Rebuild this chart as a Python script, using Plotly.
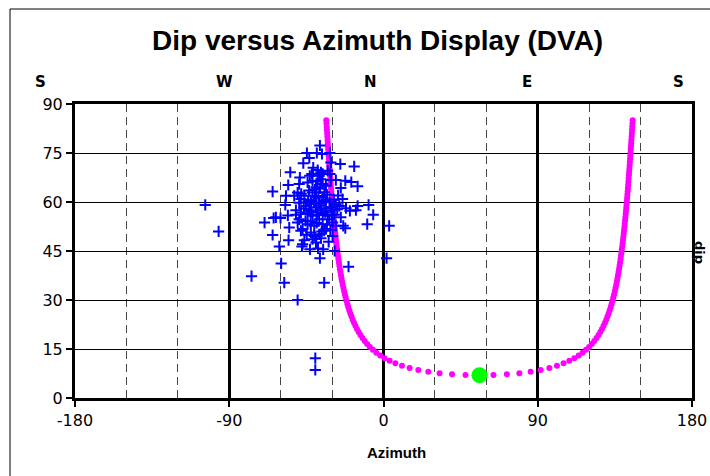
import plotly.graph_objects as go

# ---- data -------------------------------------------------------------
x_ticks = [-180, -90, 0, 90, 180]
y_ticks = [0, 15, 30, 45, 60, 75, 90]
compass_labels = ["S", "W", "N", "E", "S"]

# measured bedding / fracture dips (azimuth, dip)
scatter_az = [
    -104.0, -96.2, -77.0, -50.1, -57.9, -59.7, -60.8, -64.7, -69.4, -64.7,
    -64.1, -62.8, -60.1, -55.0, -55.4, -57.3, -55.8, -55.6, -54.4, -48.8,
    -46.8, -44.7, -43.3, -38.9, -37.1, -35.9, -31.3, -25.2, -17.1, -22.3,
    -18.8, -15.1, -24.9, -27.8, -23.9, -15.1, -8.7, -16.1, -19.6, -6.0,
    -9.5, 3.3, 1.8, -23.5, -22.3, -20.4, -34.6, -37.1, -35.2, -42.9,
    -47.2, -47.6, -46.2, -28.5, -39.8, -39.8,
    -38.4, -36.5, -32.6, -41.8, -37.5, -35.5,
    -44.3, -41.4, -36.5, -35.5, -30.7, -39.4, -33.6, -49.2,
    -56.9, -50.1, -48.2, -41.4, -39.4, -35.5, -33.6, -42.4, -46.2, -52.1,
    -49.2, -45.3, -42.4, -39.4, -37.5, -33.6, -30.7, -27.8, -25.8, -21.9,
    -51.1, -43.3, -36.5, -29.7,
    -51.1, -48.2, -44.3, -41.4, -38.4, -35.5, -32.6, -28.7, -24.9, -49.2,
    -37.5, -31.7,
    -50.1, -44.3, -40.4, -35.5, -29.7, -27.8, -47.2, -33.6,
    -48.2, -42.4, -40.4, -37.5, -34.6, -29.7, -41.4, -36.5,
    -39.4, -31.3, -30.7,
    -44.0, -42.0, -40.5, -39.0, -38.0, -36.8, -35.0, -34.0, -33.0, -31.5,
    -30.2, -29.0, -43.5, -40.0, -37.0, -34.5, -45.5, -42.5, -39.0, -36.0,
    -33.0, -31.0, -38.5, -41.0, -46.5, -48.0, -26.5, -27.0, -43.0, -32.0,
    -44.8, -38.2,
]
scatter_dip = [
    59.1, 51.0, 37.3, 30.0, 35.3, 41.2, 46.4, 49.9, 53.7, 63.2,
    55.1, 55.3, 55.1, 52.2, 48.3, 59.1, 55.9, 65.2, 69.1, 67.5,
    71.9, 75.0, 73.5, 75.0, 77.3, 74.7, 75.0, 71.6, 70.9, 66.5,
    66.1, 64.8, 64.3, 66.7, 60.9, 58.8, 59.1, 57.5, 57.3, 56.1,
    53.2, 52.7, 42.8, 52.7, 52.0, 40.2, 35.3, 42.8, 45.5, 45.5,
    47.1, 46.4, 48.3, 45.0, 12.2, 8.6,
    69.8, 69.1, 69.6, 68.6, 68.0, 68.6,
    66.0, 66.5, 67.0, 65.5, 66.7, 64.5, 65.0, 65.5,
    61.9, 62.9, 60.9, 62.9, 61.4, 61.4, 60.6, 60.6, 61.9, 61.9,
    59.8, 58.8, 59.3, 58.3, 59.5, 58.1, 58.5, 59.3, 58.8, 58.1,
    57.5, 57.5, 57.5, 57.5,
    56.1, 56.8, 56.3, 55.8, 56.8, 56.3, 55.8, 56.1, 55.3, 54.7,
    54.7, 54.7,
    53.7, 53.2, 52.7, 53.2, 53.7, 52.7, 51.7, 51.7,
    51.2, 50.7, 49.6, 50.1, 51.2, 49.6, 48.6, 48.9,
    47.6, 68.6, 72.1,
    60.2, 57.0, 59.8, 56.0, 61.8, 58.9, 60.0, 56.9, 62.2, 59.9,
    56.0, 60.8, 63.5, 63.8, 64.2, 63.0, 54.2, 54.0, 53.6, 51.0,
    53.0, 51.5, 66.3, 70.5, 58.0, 62.5, 62.0, 57.8, 68.0, 47.8,
    50.0, 45.8,
]

# locus of planes parallel to the borehole axis (azimuth, dip)
curve_az = [
    -33.39, -33.27, -33.14, -33.02, -32.89, -32.77, -32.64, -32.52, -32.39, -32.26,
    -32.13, -32.00, -31.87, -31.73, -31.60, -31.46, -31.32, -31.18, -31.04, -30.89,
    -30.75, -30.60, -30.45, -30.29, -30.14, -29.98, -29.81, -29.64, -29.47, -29.30,
    -29.12, -28.94, -28.75, -28.56, -28.36, -28.16, -27.95, -27.74, -27.52, -27.29,
    -27.05, -26.81, -26.55, -26.29, -26.02, -25.74, -25.44, -25.13, -24.81, -24.48,
    -24.13, -23.76, -23.37, -22.96, -22.53, -22.08, -21.60, -21.09, -20.55, -19.97,
    -19.35, -18.69, -17.98, -17.22, -16.39, -15.49, -14.51, -13.44, -12.26, -10.97,
    -9.54, -7.95, -6.17, -4.17, -1.91, 0.65, 3.58, 6.93, 10.79, 15.23,
    20.32, 26.15, 32.73, 40.01, 47.85,
    56.00,
    64.15, 71.99, 79.27, 85.85, 91.68,
    96.77, 101.21, 105.07, 108.42, 111.35, 113.91, 116.17, 118.17, 119.95, 121.54,
    122.97, 124.26, 125.44, 126.51, 127.49, 128.39, 129.22, 129.98, 130.69, 131.35,
    131.97, 132.55, 133.09, 133.60, 134.08, 134.53, 134.96, 135.37, 135.76, 136.13,
    136.48, 136.81, 137.13, 137.44, 137.74, 138.02, 138.29, 138.55, 138.81, 139.05,
    139.29, 139.52, 139.74, 139.95, 140.16, 140.36, 140.56, 140.75, 140.94, 141.12,
    141.30, 141.47, 141.64, 141.81, 141.98, 142.14, 142.29, 142.45, 142.60, 142.75,
    142.89, 143.04, 143.18, 143.32, 143.46, 143.60, 143.73, 143.87, 144.00, 144.13,
    144.26, 144.39, 144.52, 144.64, 144.77, 144.89, 145.02, 145.14, 145.27, 145.39,
]
curve_dip = [
    85.04, 84.04, 83.05, 82.06, 81.07, 80.08, 79.08, 78.09, 77.10, 76.11,
    75.11, 74.12, 73.13, 72.14, 71.15, 70.16, 69.16, 68.17, 67.18, 66.19,
    65.20, 64.21, 63.22, 62.23, 61.24, 60.25, 59.26, 58.27, 57.28, 56.29,
    55.30, 54.31, 53.32, 52.33, 51.35, 50.36, 49.37, 48.38, 47.40, 46.41,
    45.43, 44.44, 43.46, 42.47, 41.49, 40.51, 39.52, 38.54, 37.56, 36.58,
    35.61, 34.63, 33.65, 32.68, 31.70, 30.73, 29.76, 28.79, 27.83, 26.86,
    25.90, 24.94, 23.99, 23.04, 22.09, 21.14, 20.20, 19.27, 18.35, 17.43,
    16.52, 15.62, 14.74, 13.87, 13.02, 12.18, 11.38, 10.61, 9.89, 9.21,
    8.59, 8.06, 7.61, 7.28, 7.07,
    7.00,
    7.07, 7.28, 7.61, 8.06, 8.59,
    9.21, 9.89, 10.61, 11.38, 12.18, 13.02, 13.87, 14.74, 15.62, 16.52,
    17.43, 18.35, 19.27, 20.20, 21.14, 22.09, 23.04, 23.99, 24.94, 25.90,
    26.86, 27.83, 28.79, 29.76, 30.73, 31.70, 32.68, 33.65, 34.63, 35.61,
    36.58, 37.56, 38.54, 39.52, 40.51, 41.49, 42.47, 43.46, 44.44, 45.43,
    46.41, 47.40, 48.38, 49.37, 50.36, 51.35, 52.33, 53.32, 54.31, 55.30,
    56.29, 57.28, 58.27, 59.26, 60.25, 61.24, 62.23, 63.22, 64.21, 65.20,
    66.19, 67.18, 68.17, 69.16, 70.16, 71.15, 72.14, 73.13, 74.12, 75.11,
    76.11, 77.10, 78.09, 79.08, 80.08, 81.07, 82.06, 83.05, 84.04, 85.04,
]

# borehole direction (azimuth, dip)
borehole_az = [56.0]
borehole_dip = [7.0]

assert len(scatter_az) == len(scatter_dip)
assert len(curve_az) == len(curve_dip)

# ---- figure ---------------------------------------------------------------
W, H = 710, 476
L, R, T, B = 75, 18, 104, 78
pw, ph = W - L - R, H - T - B


def px(x):
    return (x - L) / pw


def py(y):
    return (H - B - y) / ph


fig = go.Figure()
fig.add_trace(go.Scatter(
    x=curve_az, y=curve_dip, mode="markers",
    marker=dict(color="#FF00FF", size=6, line=dict(width=0)),
    hoverinfo="skip",
))
fig.add_trace(go.Scatter(
    x=scatter_az, y=scatter_dip, mode="markers",
    marker=dict(symbol="cross-thin", size=8, line=dict(width=2, color="#0000FF")),
))
fig.add_trace(go.Scatter(
    x=borehole_az, y=borehole_dip, mode="markers",
    marker=dict(color="#00FF00", size=16, line=dict(width=0)),
))

tick_font = dict(family="DejaVu Sans", size=16, color="black")

fig.update_xaxes(
    range=[-180, 180], tickmode="array", tickvals=x_ticks,
    ticktext=[str(v) for v in x_ticks],
    showline=True, linewidth=3, linecolor="black", mirror=True,
    ticks="outside", ticklen=6, tickwidth=2, tickcolor="black",
    showgrid=True, gridcolor="black", gridwidth=3, zeroline=False,
    minor=dict(tick0=0, dtick=30, showgrid=True, gridcolor="#444444",
               gridwidth=1, griddash="8px,5px", ticks=""),
    tickfont=tick_font, automargin=False,
)
fig.update_yaxes(
    range=[0, 90], tickmode="array", tickvals=y_ticks,
    ticktext=[str(v) for v in y_ticks],
    showline=True, linewidth=3, linecolor="black", mirror=True,
    ticks="outside", ticklen=6, tickwidth=2, tickcolor="black",
    showgrid=True, gridcolor="black", gridwidth=1, zeroline=False,
    tickfont=tick_font, automargin=False,
)

annotations = [
    dict(text="<b>Dip versus Azimuth Display (DVA)</b>", x=px(377), y=py(40),
         font=dict(family="Liberation Sans, Arial", size=28, color="black")),
    dict(text="<b>Azimuth</b>", x=px(396), y=py(452),
         font=dict(family="Liberation Sans, Arial", size=15, color="black")),
    dict(text="<b>dip</b>", x=px(700), y=py(252), textangle=90,
         font=dict(family="DejaVu Sans", size=13, color="black")),
]
for lab, xpix in zip(compass_labels, [40, 224, 370, 527, 678]):
    annotations.append(dict(text="<b>" + lab + "</b>", x=px(xpix), y=py(82),
                            font=dict(family="DejaVu Sans", size=15, color="black")))
for a in annotations:
    a.update(xref="paper", yref="paper", showarrow=False,
             xanchor="center", yanchor="middle")

fig.update_layout(
    width=W, height=H, autosize=False,
    margin=dict(l=L, r=R, t=T, b=B, pad=0, autoexpand=False),
    paper_bgcolor="white", plot_bgcolor="white",
    showlegend=False,
    annotations=annotations,
    shapes=[dict(type="rect", xref="paper", yref="paper",
                 x0=px(10), x1=px(713), y0=py(479), y1=py(9),
                 line=dict(color="black", width=1), layer="above")],
)

fig.write_html("out.html", config={"responsive": False})
